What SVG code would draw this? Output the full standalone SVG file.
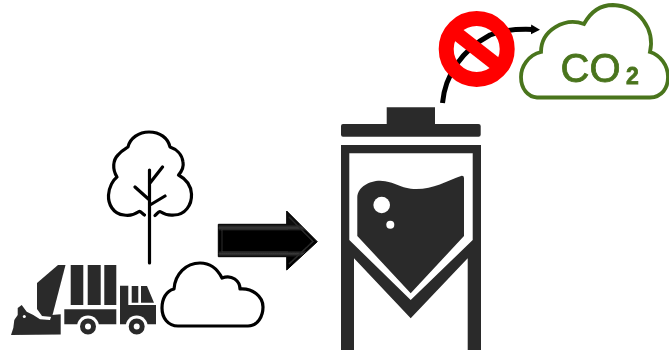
<svg xmlns="http://www.w3.org/2000/svg" width="669" height="350" viewBox="0 0 669 350">
<defs>
<style>
.dark{fill:#2b2b2b}
.line{fill:none;stroke:#000;stroke-width:3.200;stroke-linecap:round;stroke-linejoin:round}
.co2{fill:#4a741c;stroke:#4a741c;stroke-width:.8;font-family:"Liberation Sans",Arial,sans-serif}
.soft{filter:url(#soft)}
</style>
<filter id="soft" filterUnits="userSpaceOnUse" x="0" y="0" width="669" height="350"><feGaussianBlur stdDeviation="0.45"/></filter>
<linearGradient id="body" gradientUnits="userSpaceOnUse" x1="0" y1="224" x2="0" y2="257">
<stop offset="0" stop-color="#0a0a0a"/><stop offset=".12" stop-color="#3c3c3c"/><stop offset=".22" stop-color="#000"/><stop offset=".8" stop-color="#000"/><stop offset=".9" stop-color="#3a3a3a"/><stop offset="1" stop-color="#050505"/>
</linearGradient>
<marker id="tip" markerUnits="userSpaceOnUse" markerWidth="11" markerHeight="12" refX="2" refY="6" orient="auto"><path d="M0,1 L9,6 L0,11Z" fill="#000"/></marker>
</defs>
<rect width="669" height="350" fill="#fff"/>
<g id="tree" class="soft">
<path class="line" d="M144.500,215 C142,214 141,211 139,211.500 C134,215 129,216 124,215 C113,214 108,204 108.500,195 C109,187 113,180 117,177 C112,169 113,160 118,155 C122,150 125,149 128,147 C130,138 139,132 149,132 C160,132 168,138 170,147 C176,149 182,154 183,162 C184,167 182,171 178.500,175 C186,179 191,186 191.500,194 C192,205 185,215 174,215 C168,216 164,214 160,211.500 C158,212 157,214 155,215.500"/>
<path class="line" d="M149.500,170 V263 M135,187 L149.500,200 M162.500,167 L150,183 M165,196 L150,205"/>
</g>
<g id="truck" class="soft">
<path class="dark" d="M65.500,265 H58 L37,283 V309 L42,316 L52,317Z"/>
<path class="dark" d="M70.700,265 H83.300 V305 H70.700Z M87.700,265 H100.700 V305 H87.700Z M104.300,265 H116.300 V305 H104.300Z"/>
<path class="dark" d="M64.300,309.300 H116.300 V324.300 H64.300Z"/>
<path class="dark" d="M120,285.700 H128.300 V305 H156 V324.300 H120Z"/>
<path class="dark" d="M131.700,286 H138.300 V302.700 H131.700Z M141,286 H147 L154,302.700 H141Z"/>
<path class="dark" d="M11,335 L13.300,328 L14.300,320 L17.700,315 V308 L21.700,305 L26.700,311.700 L33.300,315 L40,319.300 L50,320 L51.700,315 L60.700,314.300 V334.500Z"/>
<circle cx="24.300" cy="316.500" r="1.500" fill="#fff"/>
<circle cx="88" cy="326.500" r="11" fill="#fff"/>
<circle cx="88" cy="326.500" r="5.500" fill="none" stroke="#2b2b2b" stroke-width="5"/>
<circle cx="136.700" cy="326.500" r="11" fill="#fff"/>
<circle cx="136.700" cy="326.500" r="5.500" fill="none" stroke="#2b2b2b" stroke-width="5"/>
</g>
<g id="cloud" class="soft">
<path class="line" d="M178,326 H248 C258,326 263,316 263,307 C263,296 252,288 240,289 C240,281 232,274 222,278 C217,268 210,263 200,263 C186,263 175,274 174,289 C166,291 162,299 162,308 C162,318 168,326 178,326Z"/>
</g>
<g id="battery" class="soft">
<path class="dark" d="M386.700,107.300 H435 V124 H478.500 Q480.700,124 480.700,126 V134.700 Q480.700,136.700 478.500,136.700 H343 Q341,136.700 341,134.700 V126 Q341,124 343,124 H386.700Z"/>
<path class="dark" fill-rule="evenodd" d="M341,145 H481 V355 H341Z M349.300,153.300 V240 L410.700,300 L472.700,240 V153.300Z M354,258.300 V355 H467.700 V258.300 L410.700,318.300Z"/>
<path class="dark" d="M357.300,236 V197 C358,187 369,180.700 380,180.700 C395,181 400,189 416.700,189 C433,189 447,181 461.700,175.700 Q464,175.500 464,178 V236 L410.700,293.300Z"/>
<circle cx="381.700" cy="205" r="8.300" fill="#fff"/>
<circle cx="390.300" cy="224.700" r="4" fill="#fff"/>
</g>
<g id="co2-cloud" class="soft">
<path d="M537,97.500 H650 C662,97 668,88 668,77 C668,65 660,55 650,52 C655,30 640,6 613,5 C600,5 590,13 584,24 C565,17 541,30 541,52 C528,55 521,67 521,77 C521,89 528,97 537,97.500Z" fill="none" stroke="#4a741c" stroke-width="3.800"/>
<text class="co2" x="560.500" y="81.500" font-size="40">CO<tspan style="font-size:23px;font-weight:bold" dx="5.500" dy="2">2</tspan></text>
</g>
<g id="connectors" class="soft">
<path d="M218.300,224.300 H286.700 V211 L317.300,241.700 L286.700,270 V256.700 H218.300Z" fill="url(#body)" stroke="#000" stroke-width="1" stroke-linejoin="round"/>
<path d="M222,229 H288 M222,252 H288 M222,229 V252" fill="none" stroke="#333" stroke-width="1"/>
<path d="M289,217 L313,241.500 L289,264" fill="none" stroke="#2a2a2a" stroke-width="1.500"/>
<path d="M442.500,103 C445,75 462,50 490,35 C505,29 520,29 533,29.500" fill="none" stroke="#000" stroke-width="5" marker-end="url(#tip)"/>
</g>
<g id="prohibition" class="soft">
<circle cx="476.700" cy="49" r="30.500" fill="none" stroke="#f00" stroke-width="15"/>
<path d="M456,33 L497,65" stroke="#f00" stroke-width="14" fill="none"/>
</g>
</svg>
